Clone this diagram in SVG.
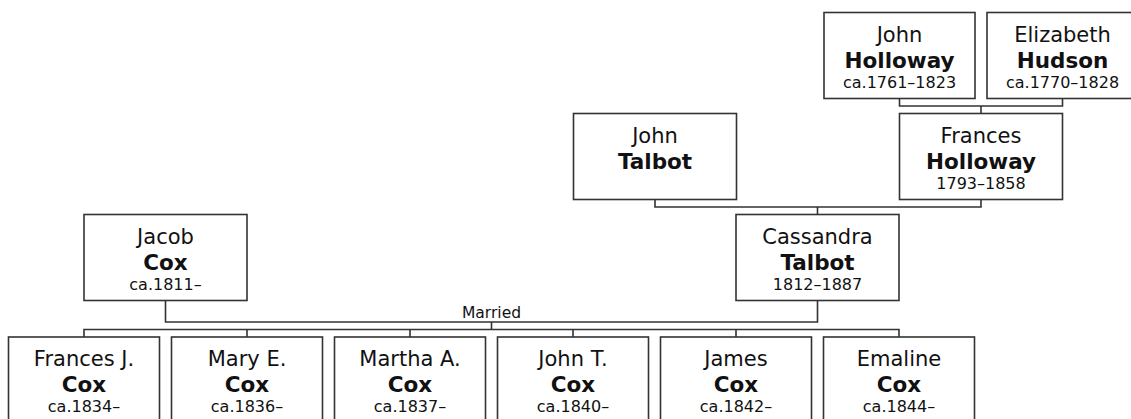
<svg xmlns="http://www.w3.org/2000/svg" width="1131" height="419" viewBox="0 0 1131 419">
<style>
.box{fill:#fff;stroke:#333;stroke-width:1.6}
.ln{fill:none;stroke:#333;stroke-width:1.6}
text{font-family:"DejaVu Sans",Verdana,sans-serif;fill:#111;text-anchor:middle}
.g{font-size:21px}
.s{font-size:21.5px;font-weight:bold}
.d{font-size:16px}
.m{font-size:15.5px}
</style>
<rect width="1131" height="419" fill="#fff"/>
<g id="connectors">
<path class="ln" d="M899.5,98.5V106H1062.5V98.5M981,106V113.5"/>
<path class="ln" d="M655,199.5V207H981V199.5M817.5,207V214.5"/>
<path class="ln" d="M165.5,300.5V322H817.5V300.5M491.5,322V329.5"/>
<path class="ln" d="M84,337V329.5H899V337M247,329.5V337M410,329.5V337M573,329.5V337M736,329.5V337"/>
<text class="m" x="491.5" y="318">Married</text>
</g>
<g id="john-holloway"><rect class="box" x="824" y="12.5" width="151" height="86"/><text class="g" x="899.5" y="41.5">John</text><text class="s" x="899.5" y="67.5">Holloway</text><text class="d" x="899.5" y="88">ca.1761–1823</text></g>
<g id="elizabeth-hudson"><rect class="box" x="987" y="12.5" width="151" height="86"/><text class="g" x="1062.5" y="41.5">Elizabeth</text><text class="s" x="1062.5" y="67.5">Hudson</text><text class="d" x="1062.5" y="88">ca.1770–1828</text></g>
<g id="john-talbot"><rect class="box" x="573.5" y="113.5" width="163" height="86"/><text class="g" x="655" y="142.5">John</text><text class="s" x="655" y="168.5">Talbot</text></g>
<g id="frances-holloway"><rect class="box" x="899.5" y="113.5" width="163" height="86"/><text class="g" x="981" y="142.5">Frances</text><text class="s" x="981" y="168.5">Holloway</text><text class="d" x="981" y="189">1793–1858</text></g>
<g id="jacob-cox"><rect class="box" x="84" y="214.5" width="163" height="86"/><text class="g" x="165.5" y="243.5">Jacob</text><text class="s" x="165.5" y="269.5">Cox</text><text class="d" x="165.5" y="290">ca.1811–</text></g>
<g id="cassandra-talbot"><rect class="box" x="736" y="214.5" width="163" height="86"/><text class="g" x="817.5" y="243.5">Cassandra</text><text class="s" x="817.5" y="269.5">Talbot</text><text class="d" x="817.5" y="290">1812–1887</text></g>
<g id="frances-j-cox"><rect class="box" x="8.5" y="337" width="151" height="86"/><text class="g" x="84" y="365.5">Frances J.</text><text class="s" x="84" y="391.5">Cox</text><text class="d" x="84" y="412">ca.1834–</text></g>
<g id="mary-e-cox"><rect class="box" x="171.5" y="337" width="151" height="86"/><text class="g" x="247" y="365.5">Mary E.</text><text class="s" x="247" y="391.5">Cox</text><text class="d" x="247" y="412">ca.1836–</text></g>
<g id="martha-a-cox"><rect class="box" x="334.5" y="337" width="151" height="86"/><text class="g" x="410" y="365.5">Martha A.</text><text class="s" x="410" y="391.5">Cox</text><text class="d" x="410" y="412">ca.1837–</text></g>
<g id="john-t-cox"><rect class="box" x="497.5" y="337" width="151" height="86"/><text class="g" x="573" y="365.5">John T.</text><text class="s" x="573" y="391.5">Cox</text><text class="d" x="573" y="412">ca.1840–</text></g>
<g id="james-cox"><rect class="box" x="660.5" y="337" width="151" height="86"/><text class="g" x="736" y="365.5">James</text><text class="s" x="736" y="391.5">Cox</text><text class="d" x="736" y="412">ca.1842–</text></g>
<g id="emaline-cox"><rect class="box" x="823.5" y="337" width="151" height="86"/><text class="g" x="899" y="365.5">Emaline</text><text class="s" x="899" y="391.5">Cox</text><text class="d" x="899" y="412">ca.1844–</text></g>
</svg>
